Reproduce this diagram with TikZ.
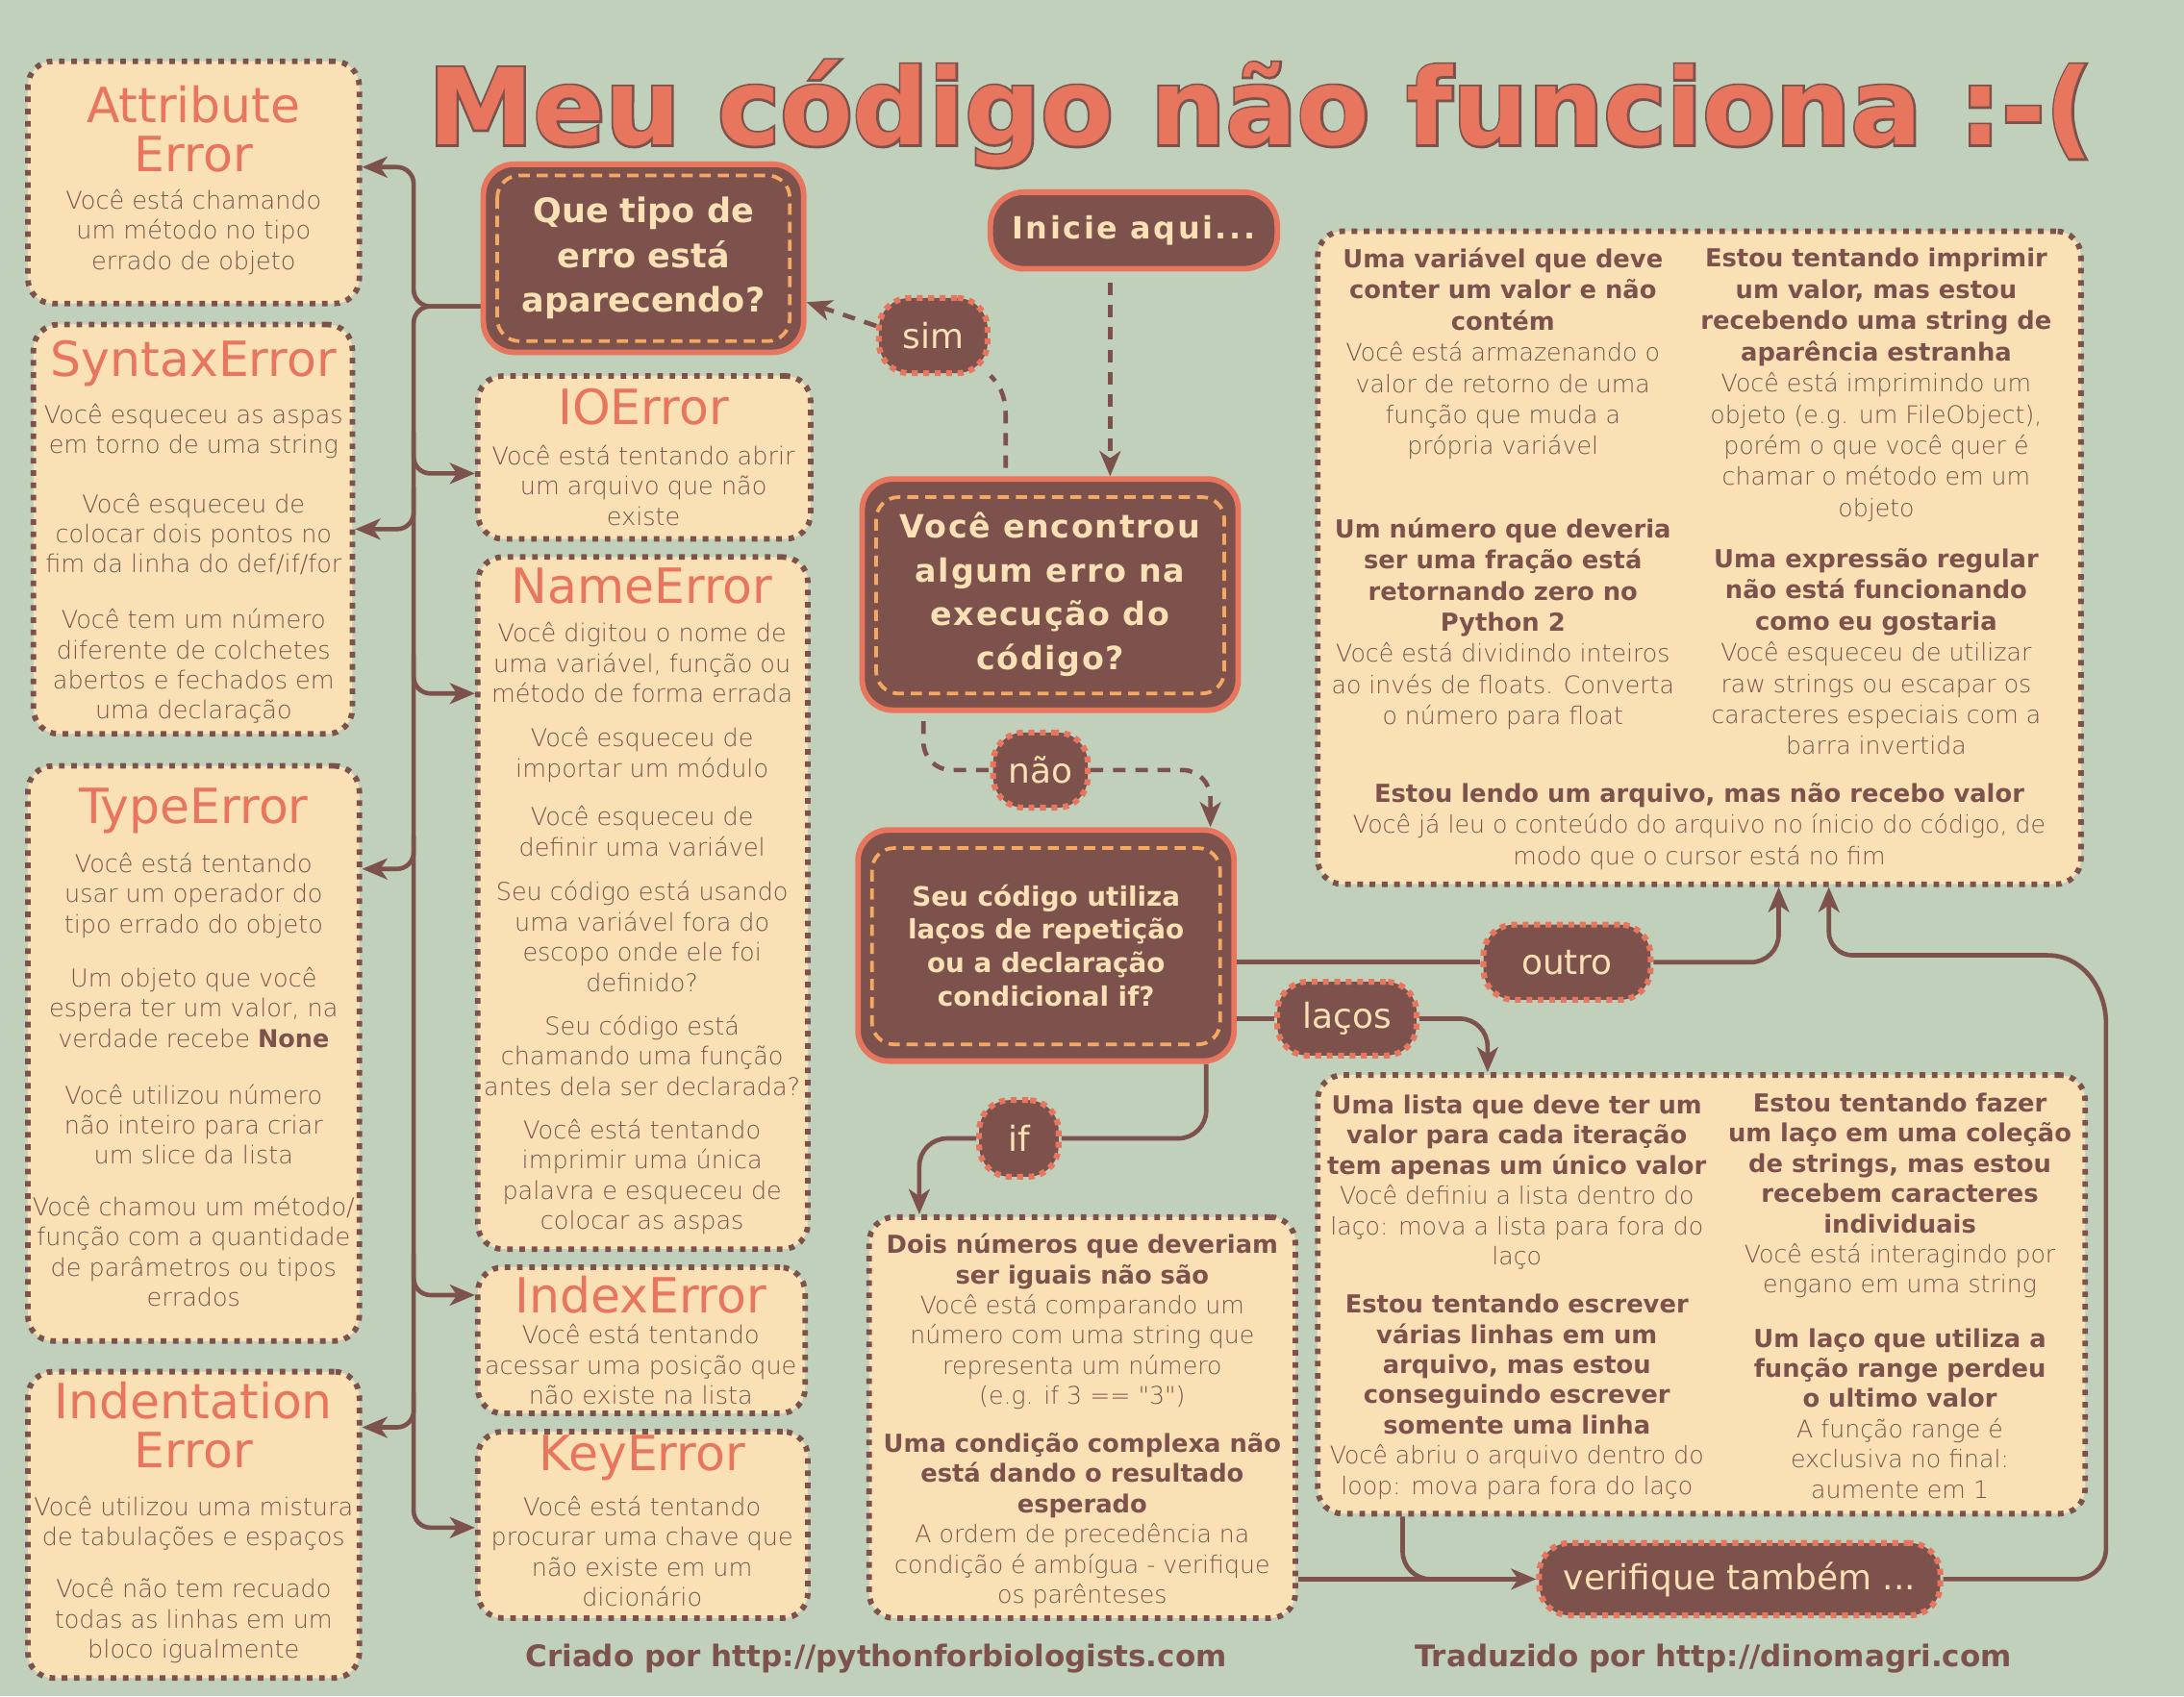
\documentclass[tikz,border=0pt]{standalone}
\usepackage{fontspec}
\setmainfont{DejaVu Sans}
\newfontfamily\lightfont{DejaVu Sans ExtraLight}[Ligatures=TeXOff]
\newfontfamily\strokefont{DejaVu Sans}[FakeBold=4]
\usetikzlibrary{arrows.meta,fit}
\definecolor{bg}{HTML}{C0D0BA}
\definecolor{cream}{HTML}{FAE0B5}
\definecolor{dkbrown}{HTML}{7D524D}
\definecolor{coral}{HTML}{E8755D}
\definecolor{orng}{HTML}{F5A862}
\newcommand\LiteA{\mdseries\lightfont\fontsize{8.7}{10.85}\selectfont}
\newcommand\LiteB{\mdseries\lightfont\fontsize{8.7}{11.2}\selectfont}
\tikzset{
 conn/.style={draw=dkbrown, line width=1.6pt},
 dconn/.style={conn, dash pattern=on 4.5pt off 3.5pt},
 arr/.style={-{Stealth[length=9pt,width=7.5pt,inset=2.5pt]}},
 cbox/.style={draw=dkbrown, fill=cream, line width=2pt, dash pattern=on 2pt off 2.4pt, rounded corners=9pt, inner sep=0pt},
 qbox/.style={draw=coral, fill=dkbrown, line width=2pt, rounded corners=11pt, inner sep=0pt, text=cream, align=center},
 lbl/.style={draw=coral, fill=dkbrown, line width=2.1pt, dash pattern=on 2.1pt off 2pt, rounded corners=11pt, inner sep=0pt, text=cream, font=\fontsize{12.4}{14}\selectfont},
 innerdash/.style={draw=orng, line width=1.3pt, dash pattern=on 4pt off 2.5pt, rounded corners=8pt},
 errt/.style={text=coral, font=\fontsize{17.4}{17.5}\selectfont, align=center, inner sep=0pt},
 desc/.style={text=dkbrown, font=\lightfont\fontsize{8.8}{10.85}\selectfont, align=center, inner sep=0pt},
 mix/.style={text=dkbrown, font=\bfseries\fontsize{8.9}{10.85}\selectfont, align=center, inner sep=0pt},
 mixT/.style={text=dkbrown, font=\bfseries\fontsize{8.9}{11.2}\selectfont, align=center, inner sep=0pt},
}
\begin{document}
\begin{tikzpicture}[x=0.5pt, y=-0.5pt]
\useasboundingbox (0,0) rectangle (1568,1218);
\fill[bg] (0,0) rectangle (1568,1218);
% title
\node[anchor=base west, inner sep=0pt, text=dkbrown, font=\strokefont\bfseries\fontsize{38}{40}\selectfont] (titleback) at (307,104) {Meu código não funciona :-(};
\node[anchor=base west, inner sep=0pt, text=coral, font=\bfseries\fontsize{38}{40}\selectfont] (title) at (307,104) {Meu código não funciona :-(};
% cream boxes
\node[cbox, fit={(20,44) (258,218)}] (attr) {};
\node[cbox, fit={(24,233) (253,527)}] (syn) {};
\node[cbox, fit={(20,550) (258,963)}] (type) {};
\node[cbox, fit={(20,985) (258,1205)}] (ind) {};
\node[cbox, fit={(343,270) (582,387)}] (io) {};
\node[cbox, fit={(343,400) (580,897)}] (name) {};
\node[cbox, fit={(343,910) (578,1015)}] (index) {};
\node[cbox, fit={(343,1028) (580,1162)}] (key) {};
\node[cbox, fit={(946,166) (1494,635)}] (top) {};
\node[cbox, fit={(946,772) (1497,1087)}] (loops) {};
\node[cbox, fit={(624,874) (930,1162)}] (ifbox) {};
% dark question boxes
\node[qbox, minimum width=115pt, minimum height=67.5pt, font=\bfseries\fontsize{12.1}{16}\selectfont] (q1) at (462,185.5) {Que tipo de\\erro está\\aparecendo?};
\draw[innerdash] ([shift={(6pt,-5pt)}]q1.north west) rectangle ([shift={(-6pt,5pt)}]q1.south east);
\node[qbox, rounded corners=12pt, minimum width=103pt, minimum height=27.5pt, font=\bfseries\fontsize{11}{13}\selectfont\addfontfeatures{LetterSpace=8}] (start) at (814,165.5) {Inicie aqui...};
\node[qbox, minimum width=135pt, minimum height=83pt, font=\bfseries\fontsize{11.5}{15.7}\selectfont\addfontfeatures{LetterSpace=5}] (q2) at (754,427) {Você encontrou\\algum erro na\\execução do\\código?};
\draw[innerdash] ([shift={(6pt,-7.5pt)}]q2.north west) rectangle ([shift={(-6pt,7pt)}]q2.south east);
\node[qbox, minimum width=135pt, minimum height=83pt, font=\bfseries\fontsize{9.6}{12}\selectfont] (q3) at (751,679) {Seu código utiliza\\laços de repetição\\ou a declaração\\condicional if?};
\draw[innerdash] ([shift={(6pt,-7.5pt)}]q3.north west) rectangle ([shift={(-6pt,7pt)}]q3.south east);
% labels
\node[lbl, minimum width=39pt, minimum height=27pt] (sim) at (670,241) {sim};
\node[lbl, minimum width=34pt, minimum height=27pt] (nao) at (747,553) {não};
\node[lbl, minimum width=60pt, minimum height=27pt] (outro) at (1125,691) {outro};
\node[lbl, minimum width=50pt, minimum height=26.5pt] (lacos) at (967,731.5) {laços};
\node[lbl, minimum width=28.5pt, minimum height=27.5pt] (ift) at (731.5,817.5) {if};
\node[lbl, minimum width=144pt, minimum height=26pt] (verif) at (1249,1134) {verifique também ...};
% left column text
\node[errt] (attrt) at (139,92.5) {Attribute\\Error};
\node[desc] (attrd) at (139,166.5) {Você está chamando\\um método no tipo\\errado de objeto};
\node[errt] (synt) at (139,261) {SyntaxError};
\node[desc] (synd1) at (139,309.5) {Você esqueceu as aspas\\em torno de uma string};
\node[desc] (synd2) at (139,383.5) {Você esqueceu de\\colocar dois pontos no\\fim da linha do def/if/for};
\node[desc] (synd3) at (139,478.5) {Você tem um número\\diferente de colchetes\\abertos e fechados em\\uma declaração};
\node[errt] (typet) at (139,582) {TypeError};
\node[desc] (typed1) at (139,643) {Você está tentando\\usar um operador do\\tipo errado do objeto};
\node[desc] (typed2) at (139,723.5) {Um objeto que você\\espera ter um valor, na\\verdade recebe {\rmfamily\bfseries None}};
\node[desc] (typed3) at (139,807.5) {Você utilizou número\\não inteiro para criar\\um slice da lista};
\node[desc] (typed4) at (139,898.5) {Você chamou um método/\\função com a quantidade\\de parâmetros ou tipos\\errados};
\node[errt] (indt) at (139,1023.5) {Indentation\\Error};
\node[desc] (indd1) at (139,1094) {Você utilizou uma mistura\\de tabulações e espaços};
\node[desc] (indd2) at (139,1164) {Você não tem recuado\\todas as linhas em um\\bloco igualmente};
% second column text
\node[errt] (iot) at (462,292) {IOError};
\node[desc] (iod) at (462,348.5) {Você está tentando abrir\\um arquivo que não\\existe};
\node[errt] (namet) at (461,421) {NameError};
\node[desc] (named1) at (461,476) {Você digitou o nome de\\uma variável, função ou\\método de forma errada};
\node[desc] (named2) at (461,542) {Você esqueceu de\\importar um módulo};
\node[desc] (named3) at (461,597) {Você esqueceu de\\definir uma variável};
\node[desc] (named4) at (461,672.5) {Seu código está usando\\uma variável fora do\\escopo onde ele foi\\definido?};
\node[desc] (named5) at (461,758) {Seu código está\\chamando uma função\\antes dela ser declarada?};
\node[desc] (named6) at (461,845) {Você está tentando\\imprimir uma única\\palavra e esqueceu de\\colocar as aspas};
\node[errt] (indext) at (460,930) {IndexError};
\node[desc] (indexd) at (460,980) {Você está tentando\\acessar uma posição que\\não existe na lista};
\node[errt] (keyt) at (461,1047) {KeyError};
\node[desc] (keyd) at (461,1114) {Você está tentando\\procurar uma chave que\\não existe em um\\dicionário};
% top right box
\node[mixT] (b1) at (1079,254) {Uma variável que deve\\conter um valor e não\\contém\\\LiteB Você está armazenando o\\\LiteB valor de retorno de uma\\\LiteB função que muda a\\\LiteB própria variável};
\node[mixT] (b2) at (1079,448) {Um número que deveria\\ser uma fração está\\retornando zero no\\Python 2\\\LiteB Você está dividindo inteiros\\\LiteB ao invés de floats. Converta\\\LiteB o número para float};
\node[mixT] (b3) at (1347,276.5) {Estou tentando imprimir\\um valor, mas estou\\recebendo uma string de\\aparência estranha\\\LiteB Você está imprimindo um\\\LiteB objeto (e.g. um FileObject),\\\LiteB porém o que você quer é\\\LiteB chamar o método em um\\\LiteB objeto};
\node[mixT] (b4) at (1347,468) {Uma expressão regular\\não está funcionando\\como eu gostaria\\\LiteB Você esqueceu de utilizar\\\LiteB raw strings ou escapar os\\\LiteB caracteres especiais com a\\\LiteB barra invertida};
\node[mixT] (b5) at (1220,593.5) {Estou lendo um arquivo, mas não recebo valor\\\LiteB Você já leu o conteúdo do arquivo no ínicio do código, de\\\LiteB modo que o cursor está no fim};
% loops box
\node[mix] (b6) at (1089,849) {Uma lista que deve ter um\\valor para cada iteração\\tem apenas um único valor\\\LiteA Você definiu a lista dentro do\\\LiteA laço: mova a lista para fora do\\\LiteA laço};
\node[mix] (b7) at (1089,1003) {Estou tentando escrever\\várias linhas em um\\arquivo, mas estou\\conseguindo escrever\\somente uma linha\\\LiteA Você abriu o arquivo dentro do\\\LiteA loop: mova para fora do laço};
\node[mix] (b8) at (1364,858.5) {Estou tentando fazer\\um laço em uma coleção\\de strings, mas estou\\recebem caracteres\\individuais\\\LiteA Você está interagindo por\\\LiteA engano em uma string};
\node[mix] (b9) at (1364,1015) {Um laço que utiliza a\\função range perdeu\\o ultimo valor\\\LiteA A função range é\\\LiteA exclusiva no final:\\\LiteA aumente em 1};
% if box
\node[mix] (b10) at (777,949) {Dois números que deveriam\\ser iguais não são\\\LiteA Você está comparando um\\\LiteA número com uma string que\\\LiteA representa um número\\\LiteA (e.g. if 3 == "3")};
\node[mix] (b11) at (777,1092) {Uma condição complexa não\\está dando o resultado\\esperado\\\LiteA A ordem de precedência na\\\LiteA condição é ambígua - verifique\\\LiteA os parênteses};
% footer
\node[text=dkbrown, font=\bfseries\fontsize{10.7}{12}\selectfont, inner sep=0pt] (f1) at (629,1191) {Criado por http://pythonforbiologists.com};
\node[text=dkbrown, font=\bfseries\fontsize{10.7}{12}\selectfont, inner sep=0pt] (f2) at (1230,1191) {Traduzido por http://dinomagri.com};
% connectors: left trunk
\draw[conn, arr, rounded corners=6pt] (q1.west |- 0,220) -- (297,220) -- (297,120) -- (attr.east |- 0,120);
\draw[conn, arr, rounded corners=6pt] (q1.west |- 0,220) -- (297,220) -- (297,1097) -- (key.west |- 0,1097);
\draw[conn, arr, rounded corners=6pt] (297,310) -- (297,340) -- (io.west |- 0,340);
\draw[conn, arr, rounded corners=6pt] (297,350) -- (297,380) -- (syn.east |- 0,380);
\draw[conn, arr, rounded corners=6pt] (297,470) -- (297,498) -- (name.west |- 0,498);
\draw[conn, arr, rounded corners=6pt] (297,600) -- (297,624) -- (type.east |- 0,624);
\draw[conn, arr, rounded corners=6pt] (297,900) -- (297,930) -- (index.west |- 0,930);
\draw[conn, arr, rounded corners=6pt] (297,1000) -- (297,1025) -- (ind.east |- 0,1025);
% middle connectors
\draw[dconn, arr, shorten <=4pt] (start.south -| 797,0) -- (q2.north -| 797,0);
\draw[dconn, shorten <=3pt] (q2.north -| 722,0) -- (722,300) to[out=90,in=-45] (sim.-35);
\draw[dconn, arr] (sim.west |- 0,234) -- (q1.east |- 0,217);
\draw[dconn, rounded corners=10pt, shorten <=3pt] (q2.south -| 663,0) |- (nao.west);
\draw[dconn, arr, rounded corners=10pt] (nao.east) -| (q3.north -| 869,0);
\draw[conn] (q3.east |- outro.west) -- (outro.west);
\draw[conn, arr, rounded corners=10pt] (outro.east) -| (top.south -| 1277,0);
\draw[conn] (q3.east |- lacos.west) -- (lacos.west);
\draw[conn, arr, rounded corners=10pt] (lacos.east) -| (loops.north -| 1068,0);
\draw[conn, rounded corners=10pt] (q3.south -| 866,0) |- (ift.east);
\draw[conn, arr, rounded corners=10pt] (ift.west) -| (ifbox.north -| 660,0);
\draw[conn, arr] (ifbox.east |- verif.west) -- (verif.west);
\coordinate (join) at (1060,1134);
\draw[conn, rounded corners=10pt] (loops.south -| 1007,0) |- (join);
\draw[conn, arr] (verif.east) -- (1490,1134) to[out=0,in=-90] (1512,1112) -- (1512,735) to[out=90,in=0] (1470,686) -- (1330,686) to[out=180,in=-90] (1313,669) -- (top.south -| 1313,0);
\end{tikzpicture}
\end{document}
